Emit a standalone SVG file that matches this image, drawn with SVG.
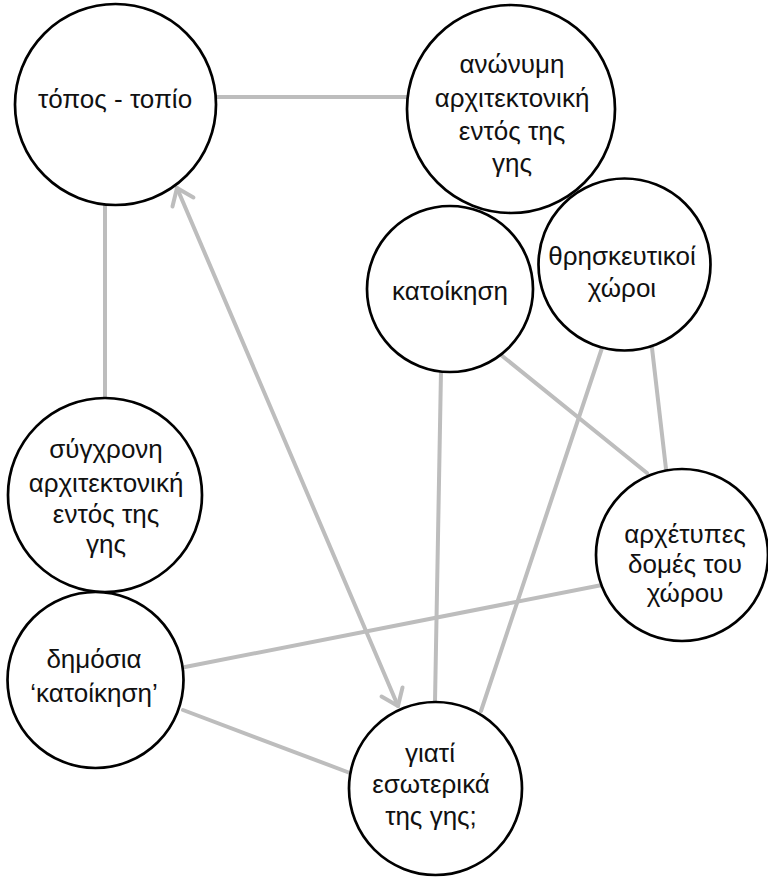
<svg xmlns="http://www.w3.org/2000/svg" width="768" height="879" viewBox="0 0 768 879">
<defs>
<style>
.node circle{fill:#fff;stroke:#000;stroke-width:2.7}
.node text{font-family:"Liberation Sans","DejaVu Sans",sans-serif;font-size:26px;fill:#111;text-anchor:middle}
.edge{stroke:#bdbdbd;stroke-width:4;fill:none;stroke-linecap:round}
</style>
<marker id="arr" markerUnits="userSpaceOnUse" markerWidth="26" markerHeight="32" viewBox="0 0 26 32" refX="20" refY="15" orient="auto-start-reverse">
<path d="M4.8,3.6 L20,15 L4.8,26.4" fill="none" stroke="#bdbdbd" stroke-width="4" stroke-linecap="round" stroke-linejoin="round"/>
</marker>
</defs>
<rect width="768" height="879" fill="#fff"/>
<g id="connectors">
<line class="edge" x1="216" y1="97" x2="407" y2="97"/>
<line class="edge" x1="105" y1="205" x2="105" y2="398"/>
<line class="edge" x1="177" y1="188" x2="398" y2="706" marker-start="url(#arr)" marker-end="url(#arr)"/>
<line class="edge" x1="441" y1="371" x2="435" y2="702"/>
<line class="edge" x1="501" y1="355" x2="647" y2="473"/>
<line class="edge" x1="602" y1="348" x2="481" y2="711"/>
<line class="edge" x1="652" y1="348" x2="666" y2="469"/>
<line class="edge" x1="602" y1="585" x2="185" y2="667"/>
<line class="edge" x1="183" y1="710" x2="350" y2="773"/>
</g>
<g id="n-topos" class="node"><circle cx="115.5" cy="104.5" r="100.5"/><text x="115" y="108" font-size="27">τόπος - τοπίο</text></g>
<g id="n-anonymi" class="node"><circle cx="511" cy="109" r="104"/><text x="512" y="73">ανώνυμη</text><text x="512" y="107">αρχιτεκτονική</text><text x="512" y="140">εντός της</text><text x="512" y="172">γης</text></g>
<g id="n-katoikisi" class="node"><circle cx="450" cy="289" r="83"/><text x="450" y="300">κατοίκηση</text></g>
<g id="n-thriskeftikoi" class="node"><circle cx="624.5" cy="264.5" r="86"/><text x="622" y="265">θρησκευτικοί</text><text x="622" y="297">χώροι</text></g>
<g id="n-sygxroni" class="node"><circle cx="105" cy="495" r="97"/><text x="106" y="458">σύγχρονη</text><text x="106" y="492">αρχιτεκτονική</text><text x="106" y="523">εντός της</text><text x="106" y="553">γης</text></g>
<g id="n-archetypes" class="node"><circle cx="682" cy="555" r="86"/><text x="685" y="543">αρχέτυπες</text><text x="685" y="573">δομές του</text><text x="685" y="602">χώρου</text></g>
<g id="n-dimosia" class="node"><circle cx="95.5" cy="680" r="88"/><text x="94" y="668">δημόσια</text><text x="94" y="702">‘κατοίκηση’</text></g>
<g id="n-giati" class="node"><circle cx="435.5" cy="788.5" r="86.5"/><text x="430" y="762">γιατί</text><text x="431" y="793">εσωτερικά</text><text x="431" y="825">της γης;</text></g>
</svg>
